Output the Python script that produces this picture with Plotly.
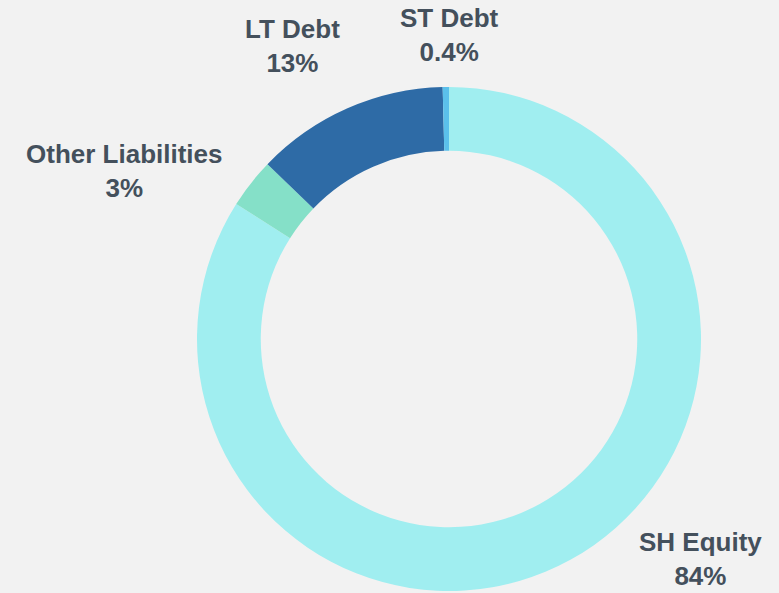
import plotly.graph_objects as go

labels = ["SH Equity", "Other Liabilities", "LT Debt", "ST Debt"]
values = [84.0, 3.2, 12.4, 0.4]
pct_labels = ["84%", "3%", "13%", "0.4%"]
colors = ["#A0EEF0", "#85E0C8", "#2E6BA6", "#5BC0EB"]
# label anchor positions (paper fraction), one per category
label_x = [700 / 779, 124 / 779, 292 / 779, 449 / 779]
label_y = [1 - 559 / 593, 1 - 171 / 593, 1 - 46 / 593, 1 - 35 / 593]

W, H = 779, 593
cx, cy, r = 449, 339, 252

fig = go.Figure(go.Pie(
    labels=labels,
    values=values,
    textinfo="none",
    hole=0.747,
    sort=False,
    direction="clockwise",
    rotation=0,
    marker=dict(colors=colors, line=dict(width=0)),
    domain=dict(x=[(cx - r) / W, (cx + r) / W], y=[1 - (cy + r) / H, 1 - (cy - r) / H]),
    showlegend=False,
    hoverinfo="label+percent",
))
for l, p, x, y in zip(labels, pct_labels, label_x, label_y):
    fig.add_annotation(
        x=x, y=y, xref="paper", yref="paper",
        text=f"<b>{l}<br>{p}</b>",
        showarrow=False,
        font=dict(family="Liberation Sans, Arial, sans-serif", size=26, color="#44505C"),
        xanchor="center", yanchor="middle", align="center",
    )
fig.update_layout(
    width=W, height=H,
    margin=dict(l=0, r=0, t=0, b=0),
    paper_bgcolor="#F2F2F2",
    plot_bgcolor="#F2F2F2",
)
fig.write_html("out.html", config={"displayModeBar": False},
               post_script="document.body.style.margin='0';")
